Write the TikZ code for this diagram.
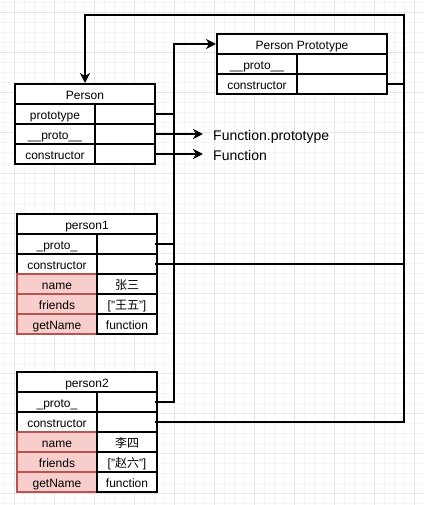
\documentclass[tikz,border=0pt]{standalone}
\usepackage{fontspec}
\setmainfont{Liberation Sans}
\newfontfamily\cjk{Noto Sans CJK SC}
\usetikzlibrary{positioning,calc,arrows.meta}
\definecolor{datafill}{HTML}{F8CECC}
\definecolor{dataline}{HTML}{B85450}
\definecolor{gridmajor}{HTML}{E6E6E6}
\definecolor{gridminor}{HTML}{F5F5F5}

\begin{document}
\begin{tikzpicture}[
    x=1pt, y=-1pt,
    cell/.style={rectangle, draw, line width=2pt, fill=white, minimum height=20pt, inner sep=0pt, text height=10.5pt, text depth=0pt, font=\fontsize{12pt}{14pt}\selectfont},
    head/.style={cell, minimum width=#1},
    key/.style={cell, minimum width=80pt},
    val/.style={cell, minimum width=#1},
    data/.style={key, fill=datafill, draw=dataline},
    link/.style={line width=2pt},
    tip/.style={link, -{Stealth[length=10pt,width=10pt,inset=3pt]}},
    ref/.style={anchor=base west, inner sep=0pt, font=\fontsize{14pt}{17pt}\selectfont}
]
    \useasboundingbox (0,0) rectangle (423,505);
    \fill[white] (0,0) rectangle (423,505);

    % Canvas grid
    \foreach \g in {4,14,...,424} \draw[gridminor, line width=1pt] (\g,0) -- (\g,505);
    \foreach \g in {3,13,...,503} \draw[gridminor, line width=1pt] (0,\g) -- (423,\g);
    \foreach \g in {14,54,...,414} \draw[gridmajor, line width=1pt] (\g,0) -- (\g,505);
    \foreach \g in {13,53,...,493} \draw[gridmajor, line width=1pt] (0,\g) -- (423,\g);

    % Person
    \node[head=140pt] (Person) at (85,94) {Person};
    \foreach \key/\tag [count=\i] in {prototype/Proto, \_\_proto\_\_/Dunder, constructor/Ctor} {
        \node[key] (Person\tag) at (55,94+20*\i) {\key};
        \node[val=60pt] (Person\tag-v) at (125,94+20*\i) {};
    }

    % Person Prototype
    \node[head=170pt] (PersonP) at (302,44) {Person Prototype};
    \foreach \key/\tag [count=\i] in {\_\_proto\_\_/Dunder, constructor/Ctor} {
        \node[key] (PersonP\tag) at (257,44+20*\i) {\key};
        \node[val=90pt] (PersonP\tag-v) at (342,44+20*\i) {};
    }

    % person1 and person2
    \foreach \obj/\ytop/\nm/\fri in {1/214/{\cjk 张三}/{["{\cjk 王五}"]}, 2/372/{\cjk 李四}/{["{\cjk 赵六}"]}} {
        \node[head=140pt] (P\obj) at (87,\ytop+10) {person\obj};
        \foreach \key/\tag [count=\i] in {\_proto\_/Proto, constructor/Ctor} {
            \node[key] (P\obj\tag) at (57,\ytop+10+20*\i) {\key};
            \node[val=60pt] (P\obj\tag-v) at (127,\ytop+10+20*\i) {};
        }
        \foreach \key/\v [count=\i from 3] in {name/\nm, friends/\fri, getName/function} {
            \node[data] (P\obj-\key) at (57,\ytop+10+20*\i) {\key};
            \node[val=60pt] (P\obj-\key-v) at (127,\ytop+10+20*\i) {\v};
        }
    }

    % Function targets
    \node[ref] (FnProto) at (213,140.5) {Function.prototype};
    \node[ref] (Fn) at (213,160.5) {Function};
    \draw[tip, shorten >=10pt] (PersonDunder-v.east) -- (PersonDunder-v.east -| FnProto.west);
    \draw[tip, shorten >=10pt] (PersonCtor-v.east) -- (PersonCtor-v.east -| Fn.west);

    % prototype links
    \coordinate (BusL) at (174,44);
    \draw[tip] ([xshift=-3pt]P2Proto-v.east) -- (P2Proto-v.east -| BusL) |- (PersonP.west);
    \draw[link] ([xshift=-3pt]P1Proto-v.east) -- (P1Proto-v.east -| BusL);
    \draw[link] (PersonProto-v.east) -- (PersonProto-v.east -| BusL);

    % constructor links
    \coordinate (BusR) at (404,15);
    \draw[tip] ([xshift=-3pt]P2Ctor-v.east) -- (P2Ctor-v.east -| BusR) -- (BusR) -| (Person.north);
    \draw[link] ([xshift=-3pt]P1Ctor-v.east) -- (P1Ctor-v.east -| BusR);
    \draw[link] (PersonPCtor-v.east) -- (PersonPCtor-v.east -| BusR);

\end{tikzpicture}
\end{document}
